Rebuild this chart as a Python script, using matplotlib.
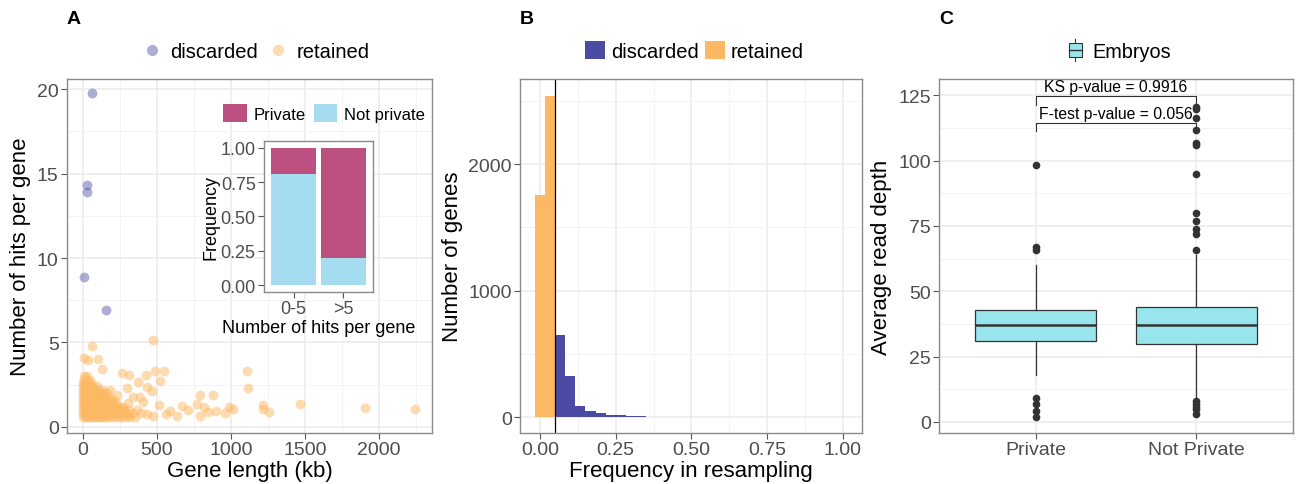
import matplotlib
matplotlib.use("Agg")
import matplotlib.pyplot as plt
from matplotlib.patches import Patch, Rectangle
from matplotlib.lines import Line2D
from matplotlib.legend_handler import HandlerBase
from matplotlib.ticker import MultipleLocator

plt.rcParams['font.family'] = ['Liberation Sans', 'DejaVu Sans']

# ---- panel A: gene length vs hits per gene ----
disc_x = [63, 25, 29, 7, 155]
disc_y = [19.8, 14.3, 13.9, 8.9, 6.9]

# sparse retained points
ret_x = [471, 59, 7, 36, 103, 126, 261, 313, 424, 486, 549, 520, 370, 295, 430, 464,
         1106, 1117, 791, 876, 768, 818, 667, 712, 638, 791, 847, 899, 959, 989, 1011,
         1214, 1218, 1259, 1466, 1905, 2243, 588, 559, 516, 475, 385, 340, 306, 407,
         430, 306, 228, 363, 182, 228, 182]
ret_y = [5.12, 4.82, 4.09, 3.95, 4.03, 3.41, 3.21, 3.05, 3.1, 3.29, 3.29, 2.7, 2.66, 2.3, 2.36, 2.1,
         3.29, 2.3, 1.87, 1.87, 1.37, 1.17, 1.23, 1.03, 0.64, 0.64, 0.87, 0.97, 0.83, 1.17, 1.07,
         1.31, 1.07, 0.87, 1.37, 1.13, 1.07, 0.97, 0.77, 1.31, 0.67, 1.77, 1.77, 1.43, 1.47,
         0.77, 0.67, 1.07, 1.03, 1.37, 1.87, 2.16]

# dense core of retained points, one list of gene lengths per hit level
core_levels = [0.6, 0.8, 1.0, 1.2, 1.4, 1.6, 1.8, 2.0, 2.2, 2.4, 2.6, 2.8, 3.0]
core_lengths = [
    [0, 15, 30, 45, 60, 75, 90, 105, 120, 135, 150, 170, 190, 210, 235, 260, 285, 320, 350],
    [0, 15, 30, 45, 60, 75, 90, 105, 120, 135, 150, 165, 185, 205, 225, 250, 275, 300, 340, 390],
    [0, 15, 30, 45, 60, 75, 90, 105, 120, 135, 150, 170, 190, 210, 230, 255, 280, 310],
    [0, 15, 30, 45, 60, 75, 90, 105, 120, 135, 150, 165, 185, 205, 225, 250, 270],
    [0, 15, 30, 45, 60, 75, 90, 105, 120, 140, 160, 180, 200, 225],
    [0, 15, 30, 45, 60, 75, 90, 105, 120, 140, 160, 185, 210],
    [0, 15, 30, 45, 60, 75, 90, 110, 130, 150, 175],
    [0, 15, 30, 45, 60, 75, 95, 115, 140, 165],
    [0, 15, 30, 45, 65, 85, 110, 135],
    [0, 15, 30, 50, 70, 95],
    [0, 15, 30, 50],
    [5, 25, 45],
    [10, 30],
]

# inset: private fraction by hit group
inset_groups = ['0-5', '>5']
not_private = [0.81, 0.20]
private = [0.19, 0.80]

# ---- panel B: resampling frequency histogram ----
ret_centers = [0.0, 1 / 30]
ret_counts = [1755, 2540]
disc_centers = [k / 30 for k in range(2, 31)]
disc_counts = [650, 322, 85, 45, 34, 14, 14, 5, 5, 3, 3, 3, 3, 0, 3, 3, 3, 0,
               3, 0, 0, 3, 0, 0, 0, 0, 0, 3, 3]
threshold = 0.05

# ---- panel C: read depth boxplots ----
box_labels = ['Private', 'Not Private']
box_med = [37, 37]
box_q1 = [30.8, 30]
box_q3 = [42.9, 44]
box_lo = [18, 8.5]
box_hi = [60, 64]
box_fliers = [[98.3, 67, 65.8, 9, 6.9, 4.1, 2],
              [120.5, 119.7, 116.3, 111.8, 106.7, 105.8, 94.9, 79.9, 76.8, 73.9, 71.9,
               65.8, 7.9, 7, 5.7, 4.9, 2.9]]

C_DISC = '#4B4BA3'
C_RET = '#FDB863'
C_PRIV = '#BC5080'
C_NOTPRIV = '#A5DCEF'
C_BOX = '#98E5EE'
GRID = '#EBEBEB'
BORDER = '#8A8A8A'
TICKC = '#4D4D4D'


def gg_style(ax, tick_size=14):
    ax.set_facecolor('white')
    for s in ax.spines.values():
        s.set_color(BORDER)
        s.set_linewidth(1.0)
    ax.tick_params(which='major', length=4, width=0.8, color='#555555',
                   labelsize=tick_size, labelcolor=TICKC, pad=2)
    ax.tick_params(which='minor', length=0)
    ax.grid(which='major', color=GRID, linewidth=1.1)
    ax.grid(which='minor', color='#F3F3F3', linewidth=0.7)
    ax.set_axisbelow(True)


class BoxHandler(HandlerBase):
    def create_artists(self, legend, orig_handle, xdescent, ydescent,
                       width, height, fontsize, trans):
        cx = width / 2 - xdescent
        bw = width * 0.85
        y0 = -ydescent
        whisk = Line2D([cx, cx], [y0 - height * 0.1, y0 + height * 1.1],
                       color='#333333', lw=0.8, transform=trans)
        rect = Rectangle((cx - bw / 2, y0 + height * 0.1), bw, height * 0.8,
                         facecolor=C_BOX, edgecolor='#333333', lw=0.8, transform=trans)
        med = Line2D([cx - bw / 2, cx + bw / 2], [y0 + height / 2] * 2,
                     color='#333333', lw=1.0, transform=trans)
        return [whisk, rect, med]


fig = plt.figure(figsize=(12.98, 4.85), dpi=100)

# ================= Panel A =================
axA = fig.add_axes([0.0516, 0.1052, 0.2812, 0.7298])
gg_style(axA)
for lvl, lengths in zip(core_levels, core_lengths):
    axA.scatter(lengths, [lvl] * len(lengths), s=50, color=C_RET, alpha=0.5, linewidths=0)
axA.scatter(ret_x, ret_y, s=50, color=C_RET, alpha=0.5, linewidths=0)
axA.scatter(disc_x, disc_y, s=50, color=C_DISC, alpha=0.45, linewidths=0)
axA.set_xlim(-108, 2358)
axA.set_ylim(-0.36, 20.6)
axA.xaxis.set_major_locator(MultipleLocator(500))
axA.xaxis.set_minor_locator(MultipleLocator(250))
axA.yaxis.set_major_locator(MultipleLocator(5))
axA.yaxis.set_minor_locator(MultipleLocator(2.5))
axA.set_xlabel('Gene length (kb)', fontsize=16, labelpad=1)
axA.set_ylabel('Number of hits per gene', fontsize=16, labelpad=4)
hA = [Line2D([], [], marker='o', ls='', ms=8, color=C_DISC, alpha=0.45, mew=0),
      Line2D([], [], marker='o', ls='', ms=8, color=C_RET, alpha=0.5, mew=0)]
axA.legend(hA, ['discarded', 'retained'], loc='center', bbox_to_anchor=(0.52, 1.079),
           ncol=2, frameon=False, fontsize=14.5, handlelength=0.8, handletextpad=0.5,
           columnspacing=0.6)

# inset
axI = fig.add_axes([0.2034, 0.3959, 0.084, 0.3113])
axI.set_facecolor('white')
for s in axI.spines.values():
    s.set_color(BORDER)
    s.set_linewidth(1.0)
axI.bar([1, 2], not_private, width=0.9, color=C_NOTPRIV)
axI.bar([1, 2], private, width=0.9, bottom=not_private, color=C_PRIV)
axI.set_xlim(0.4, 2.6)
axI.set_ylim(-0.051, 1.051)
axI.set_xticks([1, 2])
axI.set_xticklabels(inset_groups)
axI.set_yticks([0, 0.25, 0.5, 0.75, 1.0])
axI.set_yticklabels(['0.00', '0.25', '0.50', '0.75', '1.00'])
axI.tick_params(length=4, width=0.8, color='#555555', labelsize=13, labelcolor=TICKC, pad=2)
axI.set_xlabel('Number of hits per gene', fontsize=13, labelpad=1)
axI.set_ylabel('Frequency', fontsize=13, labelpad=1)
hI = [Patch(facecolor=C_PRIV), Patch(facecolor=C_NOTPRIV)]
axI.legend(hI, ['Private', 'Not private'], loc='center', bbox_to_anchor=(0.55, 1.185),
           ncol=2, frameon=False, fontsize=12, handlelength=1.4, handleheight=1.3,
           handletextpad=0.4, columnspacing=0.5)

# ================= Panel B =================
axB = fig.add_axes([0.4006, 0.1052, 0.2635, 0.7298])
gg_style(axB)
axB.bar(ret_centers, ret_counts, width=1 / 30, color=C_RET, linewidth=0)
axB.bar(disc_centers, disc_counts, width=1 / 30, color=C_DISC, linewidth=0)
axB.axvline(threshold, color='black', lw=0.9)
axB.set_xlim(-0.066, 1.063)
axB.set_ylim(-126, 2672)
axB.xaxis.set_major_locator(MultipleLocator(0.25))
axB.xaxis.set_minor_locator(MultipleLocator(0.125))
axB.xaxis.set_major_formatter(lambda v, p: f'{v:.2f}')
axB.yaxis.set_major_locator(MultipleLocator(1000))
axB.yaxis.set_minor_locator(MultipleLocator(500))
axB.set_xlabel('Frequency in resampling', fontsize=16, labelpad=1)
axB.set_ylabel('Number of genes', fontsize=16, labelpad=4)
hB = [Patch(facecolor=C_DISC), Patch(facecolor=C_RET)]
axB.legend(hB, ['discarded', 'retained'], loc='center', bbox_to_anchor=(0.51, 1.079),
           ncol=2, frameon=False, fontsize=14.5, handlelength=1.0, handleheight=1.0,
           handletextpad=0.3, columnspacing=0.3)

# ================= Panel C =================
axC = fig.add_axes([0.7234, 0.1052, 0.2727, 0.7298])
gg_style(axC)
stats = []
for i in range(2):
    stats.append(dict(med=box_med[i], q1=box_q1[i], q3=box_q3[i], whislo=box_lo[i],
                      whishi=box_hi[i], fliers=box_fliers[i], label=box_labels[i]))
axC.bxp(stats, positions=[1, 2], widths=0.75, patch_artist=True, showcaps=False,
        boxprops=dict(facecolor=C_BOX, edgecolor='#333333', linewidth=0.9),
        medianprops=dict(color='#333333', linewidth=1.8),
        whiskerprops=dict(color='#333333', linewidth=0.9),
        flierprops=dict(marker='o', markerfacecolor='#333333', markeredgecolor='#333333',
                        markersize=4.5))
axC.set_xlim(0.4, 2.6)
axC.set_ylim(-4.2, 131.2)
axC.yaxis.set_major_locator(MultipleLocator(25))
axC.yaxis.set_minor_locator(MultipleLocator(12.5))
axC.set_ylabel('Average read depth', fontsize=16, labelpad=4)
axC.tick_params(axis='x', labelsize=14)

# significance brackets
axC.plot([1, 1, 2, 2], [121.4, 124.8, 124.8, 121.4], color='#333333', lw=0.8)
axC.plot([1, 1, 2, 2], [111.3, 114.5, 114.5, 111.3], color='#333333', lw=0.8)
axC.text(1.5, 128.4, 'KS p-value = 0.9916', ha='center', va='center', fontsize=11.3)
axC.text(1.5, 118.2, 'F-test p-value = 0.056', ha='center', va='center', fontsize=11.3)

hC = Patch(facecolor=C_BOX)
axC.legend([hC], ['Embryos'], loc='center', bbox_to_anchor=(0.51, 1.079), frameon=False,
           fontsize=14.3, handlelength=0.75, handleheight=1.0, handletextpad=0.5,
           handler_map={hC: BoxHandler()})

# panel letters
fig.text(74 / 1298, 1 - 19 / 485, 'A', fontsize=14, fontweight='bold', ha='center', va='center')
fig.text(527 / 1298, 1 - 19 / 485, 'B', fontsize=14, fontweight='bold', ha='center', va='center')
fig.text(946 / 1298, 1 - 19 / 485, 'C', fontsize=14, fontweight='bold', ha='center', va='center')

fig.savefig('out.png', dpi=100)
